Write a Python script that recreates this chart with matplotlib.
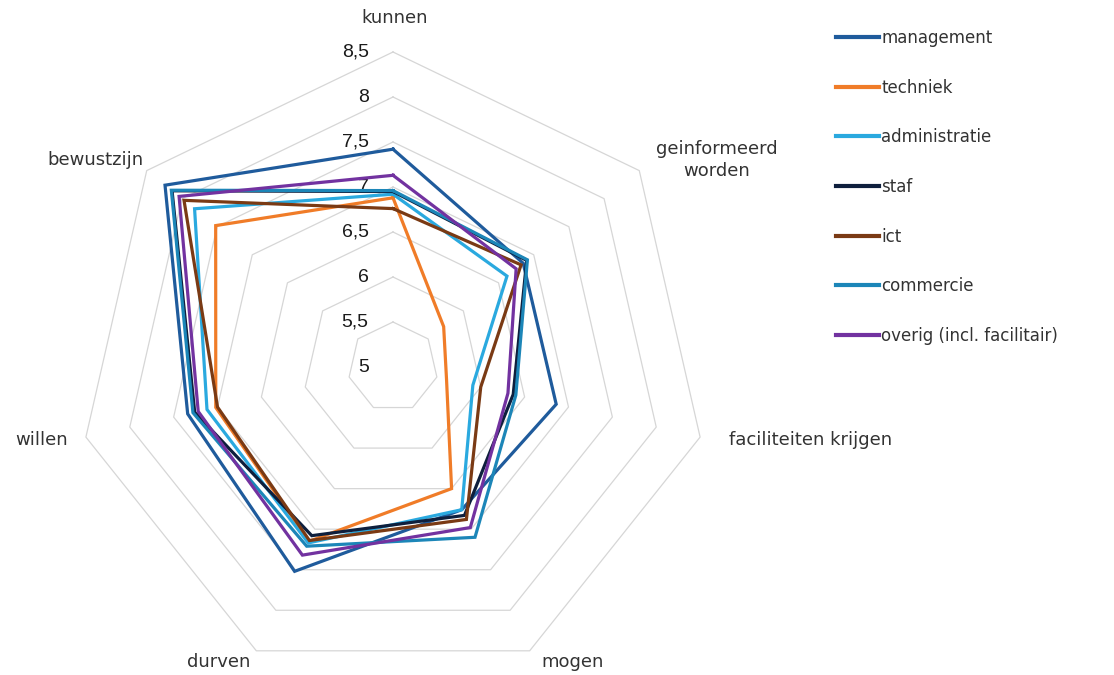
import numpy as np
import matplotlib
matplotlib.use("Agg")
import matplotlib.pyplot as plt

# axes of the radar, clockwise from the top
categories = ["kunnen", "geinformeerd\nworden", "faciliteiten krijgen", "mogen",
              "durven", "willen", "bewustzijn"]

series_names = ["management", "techniek", "administratie", "staf", "ict",
                "commercie", "overig (incl. facilitair)"]

management = [7.42, 6.85, 6.86, 6.76, 7.52, 7.34, 8.24]
techniek = [6.88, 5.72, 5.61, 6.50, 7.15, 7.02, 7.52]
administratie = [6.92, 6.62, 5.91, 6.76, 7.17, 7.12, 7.82]
staf = [6.95, 6.90, 6.37, 6.83, 7.08, 7.26, 8.14]
ict = [6.76, 6.82, 6.00, 6.88, 7.14, 7.00, 7.97]
commercie = [6.96, 6.91, 6.40, 7.10, 7.21, 7.28, 8.15]
overig = [7.13, 6.75, 6.31, 6.98, 7.32, 7.22, 8.04]

tick_values = [5, 5.5, 6, 6.5, 7, 7.5, 8, 8.5]
tick_labels = ["5", "5,5", "6", "6,5", "7", "7,5", "8", "8,5"]

colors = ["#1f5b9c", "#f07c28", "#2aa9df", "#0e1f3d", "#7a3a14", "#1c86b8", "#7232a0"]

r_min = 5.0
n = len(categories)
angles = np.pi / 2 - np.arange(n) * 2 * np.pi / n


def to_xy(vals):
    r = np.asarray(vals) - r_min
    x = r * np.cos(angles)
    y = r * np.sin(angles)
    return np.append(x, x[0]), np.append(y, y[0])


W, H = 1114, 675
cx, cy, scale = 393, 367, 90.0

fig = plt.figure(figsize=(W / 100, H / 100), dpi=100)
ax = fig.add_axes([0, 0, 1, 1])
ax.set_xlim(-cx / scale, (W - cx) / scale)
ax.set_ylim(-(H - cy) / scale, cy / scale)
ax.axis("off")

# heptagon grid
for v in tick_values[1:]:
    gx, gy = to_xy([v] * n)
    ax.plot(gx, gy, color="#d6d6d6", lw=0.9, zorder=1)

for v, lab in zip(tick_values, tick_labels):
    ax.text(-0.27, v - r_min, lab, ha="right", va="center", fontsize=14,
            family="Liberation Sans", color="#1a1a1a")

all_series = [management, techniek, administratie, staf, ict, commercie, overig]
for name, vals, c in zip(series_names, all_series, colors):
    x, y = to_xy(vals)
    ax.plot(x, y, color=c, lw=2.3, label=name, zorder=3, solid_joinstyle="miter")

# category labels
label_pos = [(0.02, 3.88), (3.6, 2.3), (4.64, -0.81), (1.99, -3.28),
             (-1.94, -3.28), (-3.9, -0.81), (-3.31, 2.3)]
for cat, (lx, ly) in zip(categories, label_pos):
    ax.text(lx, ly, cat, ha="center", va="center", fontsize=13, color="#333333",
            linespacing=1.3)

leg = ax.legend(loc="upper left", bbox_to_anchor=(836 / W, 1 - 29 / H),
                bbox_transform=fig.transFigure, frameon=False, fontsize=12,
                handlelength=2.6, handletextpad=0.1, labelspacing=1.9,
                borderpad=0, borderaxespad=0)
for t in leg.get_texts():
    t.set_color("#333333")
for h in leg.get_lines():
    h.set_linewidth(3)

fig.savefig("out.png", dpi=100)
